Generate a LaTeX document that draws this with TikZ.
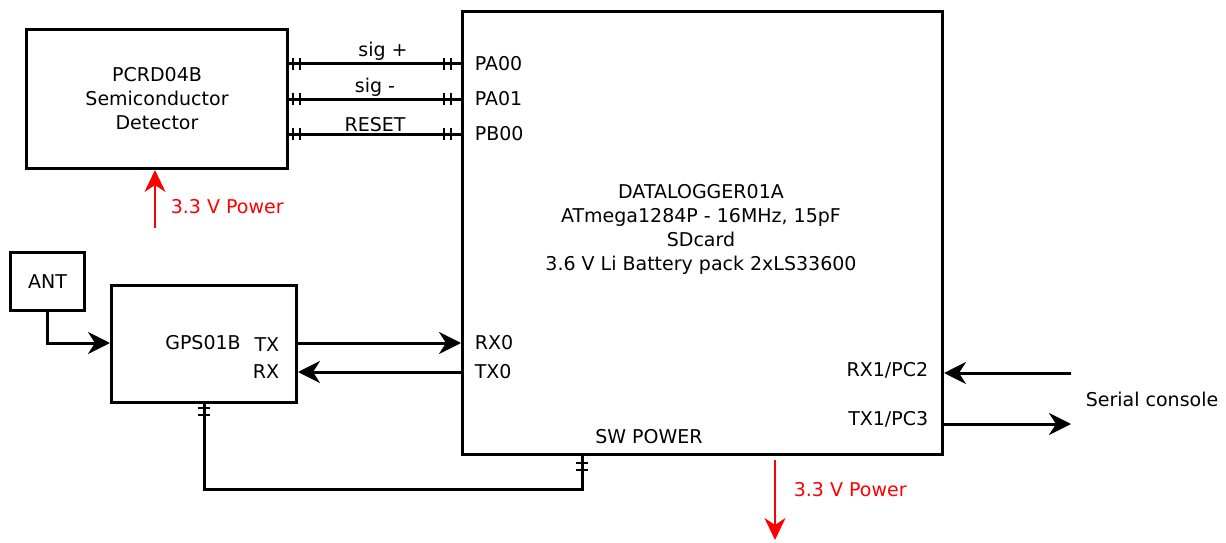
\documentclass[tikz,border=0pt]{standalone}
\usepackage{fontspec}
\setmainfont{DejaVu Sans}
\usepackage{tikz}
\usetikzlibrary{arrows.meta,decorations.markings}

\begin{document}
\begin{tikzpicture}[x=1pt,y=-1pt,line width=3pt,font=\fontsize{19}{24}\selectfont,
  block/.style={draw,line width=3pt,inner sep=0pt,anchor=north west},
  sig/.style={-{Stealth[length=22pt,width=22pt,inset=7pt]}},
  pwr/.style={red,line width=2.5pt,-{Stealth[length=22pt,width=21pt,inset=7pt]}},
  plug/.style={postaction={decorate},decoration={markings,
    mark=at position 4pt with {\draw[line width=2.5pt] (0,-6) -- (0,6) (7,-6) -- (7,6);},
    mark=at position -17pt with {\draw[line width=2.5pt] (0,-6) -- (0,6) (7,-6) -- (7,6);}}}]
  \useasboundingbox (0,0) rectangle (1226,543);
  % ---------------- blocks
  \node[block,minimum width=261pt,minimum height=139pt,align=center] (det) at (25,28)
    {PCRD04B\\Semiconductor\\Detector};
  \node[block,minimum width=480pt,minimum height=443pt] (dl) at (461,10) {};
  \node[align=center] (dlname) at (701,229)
    {DATALOGGER01A\\ATmega1284P - 16MHz, 15pF\\SDcard\\3.6 V Li Battery pack 2xLS33600};
  \node[block,minimum width=74pt,minimum height=58pt] (ant) at (9,251) {ANT};
  \node[block,minimum width=185pt,minimum height=117pt] (gps) at (110,284) {};
  \node (gpsname) at (203,343) {GPS01B};
  \node[anchor=east] (gpstx) at (284,345) {TX};
  \node[anchor=east] (gpsrx) at (284,372) {RX};
  % ---------------- ports of the datalogger
  \node[anchor=west] (pa00) at (470,64) {PA00};
  \node[anchor=west] (pa01) at (470,99) {PA01};
  \node[anchor=west] (pb00) at (470,134) {PB00};
  \node[anchor=west] (rx0) at (470,343) {RX0};
  \node[anchor=west] (tx0) at (470,372) {TX0};
  \node[anchor=east] (rx1) at (933,370) {RX1/PC2};
  \node[anchor=east] (tx1) at (933,419) {TX1/PC3};
  \node (swpwr) at (649,437) {SW POWER};
  \node[anchor=west] (serial) at (1081,399) {Serial console};
  % ---------------- detector lines
  \draw[plug] (det.east |- pa00) -- node[above,xshift=8pt,inner sep=2pt] (sigp) {sig +} (dl.west |- pa00);
  \draw[plug] (det.east |- pa01) -- node[above,inner sep=1pt] (sigm) {sig -} (dl.west |- pa01);
  \draw[plug] (det.east |- pb00) -- node[above,inner sep=1pt] (reset) {RESET} (dl.west |- pb00);
  % ---------------- gps
  \draw[sig] (ant.south) |- (gps.west |- gpsname);
  \draw[sig] (gps.east |- rx0) -- (dl.west |- rx0);
  \draw[sig] (dl.west |- tx0) -- (gps.east |- tx0);
  \coordinate (swin) at (582,453);
  \draw[plug] (gps.south) -- ++(0,85) -| (swin);
  % ---------------- serial console
  \coordinate (conin) at (1071,373);
  \coordinate (conout) at (1071,424);
  \draw[sig] (conin) -- (dl.east |- conin);
  \draw[sig] (dl.east |- conout) -- (conout);
  % ---------------- power
  \coordinate (pwrin) at (155,228);
  \coordinate (pwrout) at (775,540);
  \draw[pwr] (pwrin) -- (det.south -| pwrin);
  \node[red,anchor=west] (pwrinlbl) at (166,207) {3.3 V Power};
  \draw[pwr,shorten <=4pt] (dl.south -| pwrout) -- (pwrout);
  \node[red,anchor=west] (pwroutlbl) at (789,490) {3.3 V Power};
\end{tikzpicture}
\end{document}
